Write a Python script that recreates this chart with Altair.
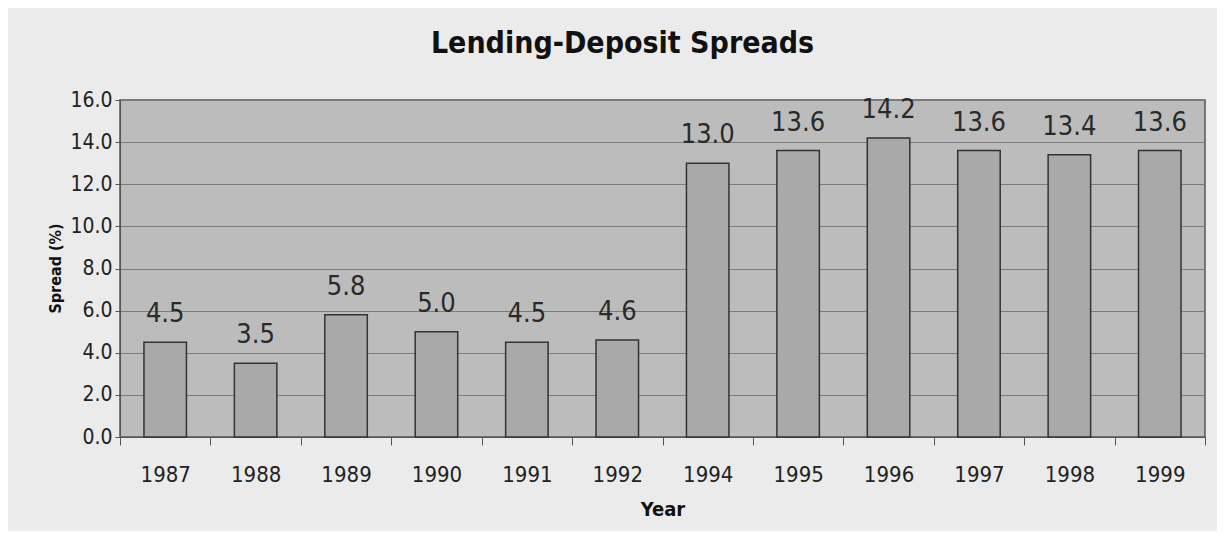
import altair as alt
import pandas as pd

years = ["1987", "1988", "1989", "1990", "1991", "1992",
         "1994", "1995", "1996", "1997", "1998", "1999"]
spreads = [4.5, 3.5, 5.8, 5.0, 4.5, 4.6, 13.0, 13.6, 14.2, 13.6, 13.4, 13.6]
y_ticks = [0, 2, 4, 6, 8, 10, 12, 14, 16]

df = pd.DataFrame({"Year": years, "Spread": spreads})

FONT = "Liberation Sans Narrow, DejaVu Sans Condensed, Arial Narrow, sans-serif"

x_enc = alt.X("Year:N", sort=years,
              scale=alt.Scale(paddingInner=0, paddingOuter=0),
              axis=alt.Axis(title="Year", labelAngle=0, tickBand="extent",
                            grid=False, ticks=True, tickSize=8,
                            tickColor="#555", domainColor="#555",
                            labelFont=FONT, labelFontSize=22, labelColor="#222",
                            labelPadding=19, titleFont=FONT, titleFontSize=20,
                            titleFontWeight="bold", titleColor="#111",
                            titlePadding=14))
y_enc = alt.Y("Spread:Q", scale=alt.Scale(domain=[0, 16], nice=False),
              axis=alt.Axis(title="Spread (%)", values=y_ticks, format=".1f",
                            grid=True, gridColor="#7c7c7c", gridWidth=1.2,
                            tickSize=5, tickColor="#555", domainColor="#555",
                            labelFont=FONT, labelFontSize=21, labelColor="#222",
                            labelPadding=3, titleFont=FONT, titleFontSize=16,
                            titleFontWeight="bold", titleColor="#111",
                            titleX=-65, titleY=168, titleAngle=-90,
                            titleBaseline="middle", titleAlign="center"))

base = alt.Chart(df)
bars = base.mark_bar(color="#a9a9a9", stroke="#333", strokeWidth=1.5,
                     width=alt.RelativeBandSize(0.47)).encode(x=x_enc, y=y_enc)
labels = base.mark_text(baseline="bottom", dy=-14, font=FONT, fontSize=27,
                        color="#2a2a2a").encode(
    x=alt.X("Year:N", sort=years), y=alt.Y("Spread:Q"),
    text=alt.Text("Spread:Q", format=".1f"))

chart = alt.layer(bars, labels).properties(
    width=1085, height=337,
    title=alt.TitleParams("Lending-Deposit Spreads", font=FONT, fontSize=30,
                          fontWeight="bold", color="#111", anchor="middle",
                          offset=30, dx=-40),
    autosize=alt.AutoSizeParams(type="none"),
    padding={"left": 112, "top": 92, "right": 12, "bottom": 94},
    background="#ebebeb",
).configure_view(fill="#bcbcbc", stroke="#555", strokeWidth=1.5)

chart.save("out.html", embed_options={"renderer": "svg", "actions": False})
